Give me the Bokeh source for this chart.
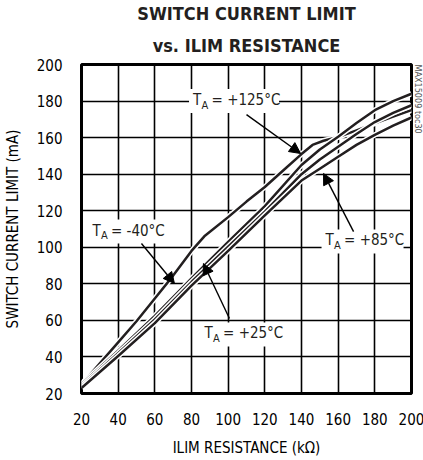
from bokeh.plotting import figure
from bokeh.models import Label, Arrow, NormalHead, FixedTicker, Title
from bokeh.embed import file_html
from bokeh.resources import INLINE

# ---------------- data ----------------
x_ticks = [20, 40, 60, 80, 100, 120, 140, 160, 180, 200]
y_ticks = [20, 40, 60, 80, 100, 120, 140, 160, 180, 200]

# TA = +125C (steep at low R, kink near 146 kOhm)
r_125 = [20, 30, 40, 50, 60, 70, 80, 87, 100, 110, 120, 130, 140, 146, 152, 160, 170, 180, 190, 200]
i_125 = [25, 36.5, 48, 59.5, 72, 84.5, 98, 106, 116.5, 125, 133, 142, 151, 156, 158.3, 160.3, 164, 167.8, 171.5, 175]

# upper of the three lower curves (top at right end)
r_a = [20, 40, 60, 80, 100, 120, 140, 150, 160, 170, 180, 190, 200]
i_a = [25, 43.5, 62.5, 83, 103, 122.5, 145, 153.5, 160.5, 168, 175, 180, 184]

# middle curve
r_b = [20, 40, 60, 80, 100, 120, 140, 150, 160, 170, 180, 190, 200]
i_b = [24, 42, 60.5, 81, 100.3, 119.5, 140, 148, 155, 162, 168.5, 173.5, 177.7]

# TA = +85C (lowest at right end)
r_c = [20, 40, 60, 80, 100, 120, 140, 150, 160, 170, 180, 190, 200]
i_c = [23, 40.5, 58.5, 79, 98, 117.5, 136.5, 143, 149.5, 156, 161.5, 166.5, 171]

curves = [(r_125, i_125), (r_a, i_a), (r_b, i_b), (r_c, i_c)]

FONT = "DejaVu Sans Condensed, Roboto, sans-serif"
INK = "#231f20"

p = figure(frame_width=330, frame_height=329,
           x_range=(20, 200), y_range=(20, 200),
           output_backend="svg", toolbar_location=None,
           min_border_left=72, min_border_right=4,
           min_border_top=10, min_border_bottom=58)
p.background_fill_color = "white"
p.border_fill_color = "white"
p.outline_line_color = "black"
p.outline_line_width = 3
p.outline_line_alpha = 1

for ax in (p.xaxis, p.yaxis):
    ax.axis_line_color = None
    ax.major_tick_line_color = None
    ax.minor_tick_line_color = None
    ax.major_label_text_font = FONT
    ax.major_label_text_font_size = "15px"
    ax.major_label_text_color = "black"
    ax.axis_label_text_font = FONT
    ax.axis_label_text_font_size = "15px"
    ax.axis_label_text_font_style = "normal"
    ax.axis_label_text_color = "black"

p.xaxis.ticker = FixedTicker(ticks=x_ticks)
p.yaxis.ticker = FixedTicker(ticks=y_ticks)
p.xaxis.major_label_standoff = 13
p.yaxis.major_label_standoff = 13
p.xaxis.axis_label = "ILIM RESISTANCE (kΩ)"
p.yaxis.axis_label = "SWITCH CURRENT LIMIT (mA)"
p.xaxis.axis_label_standoff = 11
p.yaxis.axis_label_standoff = 12

p.xgrid.ticker = FixedTicker(ticks=x_ticks)
p.ygrid.ticker = FixedTicker(ticks=y_ticks)
for g in (p.xgrid, p.ygrid):
    g.grid_line_color = "black"
    g.grid_line_width = 1.6
    g.grid_line_alpha = 1

for rx, iy in curves:
    p.line(rx, iy, line_color="white", line_width=5.5)
    p.line(rx, iy, line_color=INK, line_width=2.5, line_join="round")

# ---------------- temperature labels ----------------
def temp_label(xc, yc, rest, total_w, box_w, t_w=8.5):
    p.rect(x=[xc], y=[yc], width=box_w, height=24, width_units="screen",
           height_units="screen", fill_color="white", line_color=None)
    left = -total_w / 2
    p.add_layout(Label(x=xc, y=yc, x_offset=left, y_offset=1, text="T",
                       text_font=FONT, text_font_size="15px", text_color=INK,
                       text_align="left", text_baseline="middle"))
    p.add_layout(Label(x=xc, y=yc, x_offset=left + t_w, y_offset=-4, text="A",
                       text_font=FONT, text_font_size="11px", text_color=INK,
                       text_align="left", text_baseline="middle"))
    p.add_layout(Label(x=xc, y=yc, x_offset=left + t_w + 10, y_offset=1, text=rest,
                       text_font=FONT, text_font_size="15px", text_color=INK,
                       text_align="left", text_baseline="middle"))

def arrow(x0, y0, x1, y1):
    p.add_layout(Arrow(end=NormalHead(size=11, fill_color="black", line_color="black"),
                       x_start=x0, y_start=y0, x_end=x1, y_end=y1,
                       line_color="black", line_width=1.4))

temp_label(103.2, 180, "= +125°C", 82, 90)
arrow(110, 172.6, 139.5, 151.3)

temp_label(45.6, 108.6, "= -40°C", 72, 80)
arrow(52.7, 102.1, 70.7, 80.2)

temp_label(107.3, 52.3, "= +25°C", 74, 82)
arrow(100.7, 61, 86.5, 91.1)

temp_label(173.3, 103.2, "= +85°C", 74, 82)
arrow(168.4, 108.6, 152, 140.4)

# ---------------- titles ----------------
p.add_layout(Title(text="vs. ILIM RESISTANCE", align="center", text_font=FONT,
                   text_font_size="18px", text_font_style="bold", text_color=INK,
                   standoff=18, offset=0), "above")
p.add_layout(Title(text="SWITCH CURRENT LIMIT", align="center", text_font=FONT,
                   text_font_size="18px", text_font_style="bold", text_color=INK,
                   standoff=0, offset=0), "above")

# figure id
p.add_layout(Title(text="MAX15009 toc30", align="left", text_font=FONT,
                   text_font_size="9px", text_font_style="normal", text_color="#555555",
                   standoff=2), "right")

open("out.html", "w").write(file_html(p, INLINE))
